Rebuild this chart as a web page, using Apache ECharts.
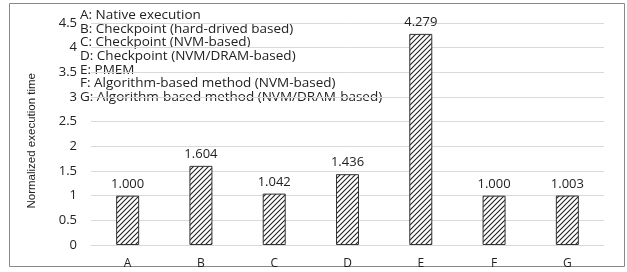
<!DOCTYPE html>
<html><head><meta charset="utf-8">
<script src="https://cdn.jsdelivr.net/npm/echarts@6/dist/echarts.min.js"></script>
<style>html,body{margin:0;padding:0;background:#fff}#c{width:627px;height:272px}</style>
</head><body><div id="c"></div>
<script>
const categories = ['A','B','C','D','E','F','G'];
const values = [1.000, 1.604, 1.042, 1.436, 4.279, 1.000, 1.003];
const valueLabels = ['1.000','1.604','1.042','1.436','4.279','1.000','1.003'];
const legendLines = [
  'A: Native execution',
  'B: Checkpoint (hard-drived based)',
  'C: Checkpoint (NVM-based)',
  'D: Checkpoint (NVM/DRAM-based)',
  'E: PMEM',
  'F: Algorithm-based method (NVM-based)',
  'G: Algorithm-based method (NVM/DRAM-based)'
];
const yTitle = 'Normalized execution time';

const pc = document.createElement('canvas');
pc.width = 5; pc.height = 5;
const g = pc.getContext('2d');
g.fillStyle = '#fff'; g.fillRect(0,0,5,5);
g.strokeStyle = '#222'; g.lineWidth = 1.1;
g.beginPath();
g.moveTo(-1,6); g.lineTo(6,-1);
g.moveTo(-1,1); g.lineTo(1,-1);
g.moveTo(4,6); g.lineTo(6,4);
g.stroke();

const font = '"Open Sans", "Liberation Sans", sans-serif';
const chart = echarts.init(document.getElementById('c'));
chart.setOption({
  animation:false,
  backgroundColor:'#fff',
  grid:{left:91, right:23, top:23, bottom:27, containLabel:false},
  xAxis:{type:'category', data:categories,
    axisLine:{show:true, lineStyle:{color:'#d9d9d9', width:1}},
    axisTick:{show:false},
    axisLabel:{color:'#222', fontSize:12, fontFamily:font, margin:13}},
  yAxis:{type:'value', min:0, max:4.5, interval:0.5,
    axisLine:{show:false}, axisTick:{show:false},
    splitLine:{lineStyle:{color:'#d9d9d9', width:1}},
    axisLabel:{color:'#222', fontSize:13, fontFamily:font, margin:14}},
  series:[{type:'bar', data:values, barWidth:23,
    itemStyle:{color:{image:pc, repeat:'repeat'}, borderColor:'#333', borderWidth:1},
    label:{show:true, position:'top', distance:5, color:'#222', fontSize:13, fontFamily:font,
      formatter:p=>valueLabels[p.dataIndex]}}],
  graphic:[
    {type:'rect', shape:{x:9.5, y:3.5, width:615, height:263}, style:{fill:'none', stroke:'#888', lineWidth:1}, silent:true},
    {type:'text', left:26, top:73, rotation:Math.PI/2, style:{text:yTitle, font:'11.5px "Liberation Sans Narrow", "Liberation Sans", sans-serif', fill:'#222'}},
    ...legendLines.map((t,i)=>({type:'text', x:80, y:15+i*13.7, style:{text:t, font:'13.5px '+font, fill:'#222', verticalAlign:'middle'}}))
  ]
});
</script></body></html>
